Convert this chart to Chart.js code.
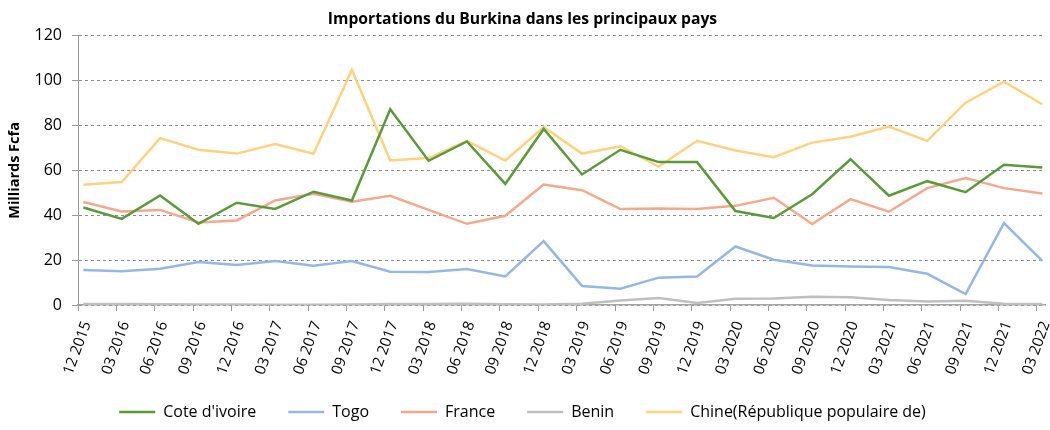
<!DOCTYPE html>
<html>
<head>
<meta charset="utf-8">
<script src="https://cdn.jsdelivr.net/npm/chart.js@4.4.0/dist/chart.umd.min.js"></script>
<style>
  html, body { margin: 0; padding: 0; background: #fff; }
  #wrap { width: 1050px; height: 430px; }
</style>
</head>
<body>
<div id="wrap"><canvas id="importChart"></canvas></div>
<script>
// Trimestres (axe x)
const quarters = [
  '12 2015', '03 2016', '06 2016', '09 2016', '12 2016', '03 2017', '06 2017',
  '09 2017', '12 2017', '03 2018', '06 2018', '09 2018', '12 2018', '03 2019',
  '06 2019', '09 2019', '12 2019', '03 2020', '06 2020', '09 2020', '12 2020',
  '03 2021', '06 2021', '09 2021', '12 2021', '03 2022',
];

// Importations en milliards de Fcfa
const coteIvoire = [
  43.5, 38.4, 48.8, 36.2, 45.6, 42.8, 50.5, 46.6, 87.3, 64.3, 72.9, 54.0, 78.5,
  58.2, 69.2, 63.7, 63.7, 41.9, 38.8, 49.4, 65.0, 48.7, 55.2, 50.3, 62.5, 61.3,
];
const togo = [
  15.6, 15.0, 16.2, 19.2, 17.8, 19.6, 17.5, 19.6, 14.8, 14.7, 16.0, 12.7, 28.5,
  8.5, 7.3, 12.2, 12.7, 26.1, 20.2, 17.6, 17.2, 16.9, 13.9, 4.9, 36.5, 19.7,
];
const france = [
  45.9, 41.7, 42.4, 36.8, 37.7, 46.6, 49.6, 46.0, 48.7, 42.4, 36.2, 39.8, 53.7,
  51.2, 42.8, 43.0, 42.8, 44.2, 47.8, 36.1, 47.2, 41.6, 52.1, 56.6, 52.1, 49.7,
];
const benin = [
  0.5, 0.5, 0.3, 0.2, 0.2, 0.1, 0.1, 0.2, 0.5, 0.4, 0.6, 0.3, 0.2,
  0.6, 2.0, 3.1, 0.9, 2.8, 2.9, 3.7, 3.4, 2.2, 1.6, 1.9, 0.6, 0.4,
];
const chine = [
  53.6, 54.8, 74.4, 69.2, 67.5, 71.8, 67.4, 104.8, 64.4, 65.5, 73.2, 64.4, 79.3,
  67.5, 70.8, 61.7, 73.2, 68.9, 65.9, 72.4, 75.0, 79.6, 73.2, 90.2, 99.6, 89.5,
];

const yTicks = [0, 20, 40, 60, 80, 100, 120];

const FONT = '"Open Sans", Lato, sans-serif';
// les graduations sont un peu à gauche des points
const tickShift = 0.14;

function toPoints(values) {
  return values.map((v, i) => ({ x: i, y: v }));
}

function serie(label, values, color) {
  return {
    label: label,
    data: toPoints(values),
    borderColor: color,
    backgroundColor: color,
    borderWidth: 2.5,
    pointRadius: 0,
    tension: 0,
  };
}

// les libellés inclinés descendent sous la zone de l'axe : on élargit le clip
const labelRoom = {
  id: 'labelRoom',
  afterLayout(chart) {
    chart.scales.x.bottom = chart.height;
  },
};

const data = {
  datasets: [
    serie("Cote d'ivoire", coteIvoire, '#5b9a3b'),
    serie('Togo', togo, '#95b8e3'),
    serie('France', france, '#f4a98c'),
    serie('Benin', benin, '#bfbfbf'),
    serie('Chine(République populaire de)', chine, '#ffd280'),
  ],
};

const config = {
  type: 'line',
  data: data,
  plugins: [labelRoom],
  options: {
    responsive: true,
    maintainAspectRatio: false,
    animation: false,
    devicePixelRatio: 1,
    layout: { padding: { left: 0, right: 5, top: 0, bottom: 0 } },
    plugins: {
      title: {
        display: true,
        text: 'Importations du Burkina dans les principaux pays',
        color: '#000',
        font: { family: FONT, size: 15.7, weight: 'bold' },
        padding: { top: 10, bottom: 7 },
      },
      legend: {
        position: 'bottom',
        labels: {
          usePointStyle: true,
          pointStyle: 'line',
          pointStyleWidth: 36,
          padding: 32,
          color: '#000',
          font: { family: FONT, size: 16 },
        },
      },
      tooltip: { enabled: false },
    },
    scales: {
      x: {
        type: 'linear',
        min: -tickShift,
        max: 25.07,
        afterBuildTicks(scale) {
          scale.ticks = quarters.map((q, i) => ({ value: i - tickShift }));
        },
        afterFit(scale) {
          scale.height = 67;
          scale.paddingLeft = 0;
          scale.paddingRight = 0;
        },
        ticks: {
          autoSkip: false,
          minRotation: 70,
          maxRotation: 70,
          padding: 8,
          labelOffset: 9,
          color: '#000',
          font: { family: FONT, size: 15 },
          callback: (value, index) => quarters[index],
        },
        grid: {
          drawOnChartArea: false,
          drawTicks: true,
          tickLength: 6,
          color: '#999',
        },
        border: { color: '#a6a6a6', width: 1.5 },
      },
      y: {
        min: 0,
        max: 120,
        afterBuildTicks(scale) {
          scale.ticks = yTicks.map((v) => ({ value: v }));
        },
        afterFit(scale) {
          scale.width = 78;
        },
        ticks: {
          padding: 10,
          color: '#000',
          font: { family: FONT, size: 16 },
        },
        grid: {
          color: '#8c8c8c',
          tickLength: 6,
          tickColor: '#999',
          tickBorderDash: [],
        },
        border: { color: '#999', width: 1, dash: [3, 3] },
        title: {
          display: true,
          text: 'Milliards Fcfa',
          color: '#000',
          font: { family: FONT, size: 14.5, weight: 'bold' },
          padding: { top: 6, bottom: 0 },
        },
      },
    },
  },
};

new Chart(document.getElementById('importChart'), config);
</script>
</body>
</html>
